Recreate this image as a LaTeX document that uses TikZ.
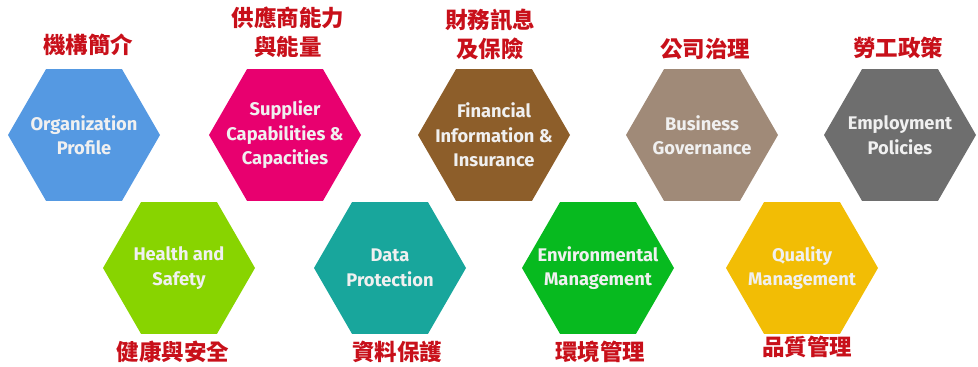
\documentclass[tikz,border=0pt]{standalone}
\usepackage{fontspec}
\setmainfont{Fira Sans}
\newfontfamily\cjk{Noto Sans CJK TC}
\usetikzlibrary{shapes.geometric}

\definecolor{orgblue}{HTML}{5599E2}
\definecolor{suppink}{HTML}{E8006F}
\definecolor{finbrown}{HTML}{8D5E2A}
\definecolor{govtaupe}{HTML}{A08A78}
\definecolor{empgray}{HTML}{6E6E6E}
\definecolor{hsgreen}{HTML}{88D400}
\definecolor{datateal}{HTML}{18A69C}
\definecolor{envgreen}{HTML}{07BA1F}
\definecolor{qualgold}{HTML}{F2BD05}
\definecolor{labelred}{HTML}{C8101A}

\tikzstyle{hexa}=[regular polygon,
    regular polygon sides=6,
    minimum size=152pt,
    inner sep=0pt,
    outer sep=0pt,
    draw=none]
\tikzstyle{hextext}=[align=center,
    text=gray!12,
    font=\fontsize{18.3}{24.5}\selectfont\bfseries]
\tikzstyle{cjklabel}=[align=center,
    text=labelred,
    inner sep=0pt,
    font=\cjk\bfseries\fontsize{22.5}{29}\selectfont]

\begin{document}
\begin{tikzpicture}[x=1pt,y=-1pt]
            \useasboundingbox (0,0) rectangle (978,367);
            % top row
            \node (org) [hexa, fill=orgblue] at (84,135) {};
            \node (sup) [hexa, fill=suppink] at (285,135) {};
            \node (fin) [hexa, fill=finbrown] at (494,135) {};
            \node (gov) [hexa, fill=govtaupe] at (702,135) {};
            \node (emp) [hexa, fill=empgray] at (900,135) {};
            % bottom row
            \node (hs) [hexa, fill=hsgreen] at (179,268) {};
            \node (data) [hexa, fill=datateal] at (390,268) {};
            \node (env) [hexa, fill=envgreen] at (598,268) {};
            \node (qual) [hexa, fill=qualgold] at (802,268) {};
            % texts
            \node (orgtxt) [hextext] at (org) {Organization\\Profile};
            \node (suptxt) [hextext] at (sup) {Supplier\\Capabilities \&\\Capacities};
            \node (fintxt) [hextext] at (fin) {Financial\\Information \&\\Insurance};
            \node (govtxt) [hextext] at (gov) {Business\\Governance};
            \node (emptxt) [hextext] at (emp) {Employment\\Policies};
            \node (hstxt) [hextext] at (hs) {Health and\\Safety};
            \node (datatxt) [hextext] at (data) {Data\\Protection};
            \node (envtxt) [hextext] at (env) {Environmental\\Management};
            \node (qualtxt) [hextext] at (qual) {Quality\\Management};
            % labels
            \node (orglbl) [cjklabel] at (88,45) {機構簡介};
            \node (suplbl) [cjklabel] at (288,32) {供應商能力\\與能量};
            \node (finlbl) [cjklabel] at (490,35) {財務訊息\\及保險};
            \node (govlbl) [cjklabel] at (705,49) {公司治理};
            \node (emplbl) [cjklabel] at (898,48) {勞工政策};
            \node (hslbl) [cjklabel] at (173,352) {健康與安全};
            \node (datalbl) [cjklabel] at (397,352) {資料保護};
            \node (envlbl) [cjklabel] at (600,352) {環境管理};
            \node (quallbl) [cjklabel] at (807,347) {品質管理};
        \end{tikzpicture}
\end{document}
